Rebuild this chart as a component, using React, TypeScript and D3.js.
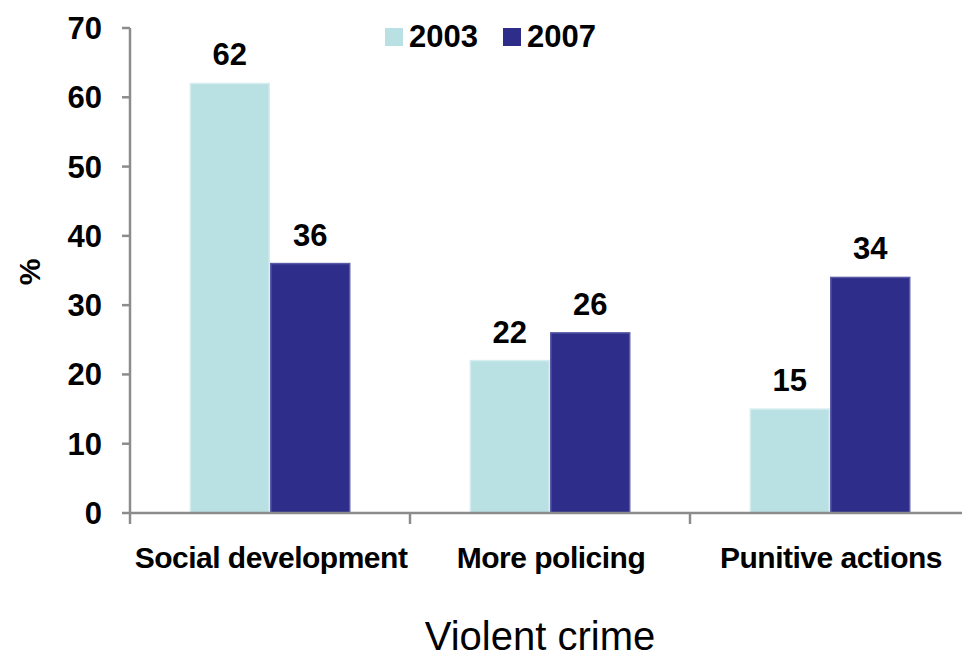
import React, { useEffect, useRef } from 'react'
import * as d3 from 'd3'

const categories = ['Social development', 'More policing', 'Punitive actions']
const seriesNames = ['2003', '2007']
const values2003 = [62, 22, 15]
const values2007 = [36, 26, 34]
const yTicks = [0, 10, 20, 30, 40, 50, 60, 70]
const colors = ['#b9e0e3', '#2e2e8a']
const strokes = ['#d6eef0', '#5a5aa6']

export default function App() {
    const svgRef = useRef<SVGSVGElement>(null)

    useEffect(() => {
        const width = 962
        const height = 658
        const left = 130
        const right = 970
        const top = 28
        const bottom = 513
        const font = 'Arial, "Liberation Sans", sans-serif'

        const svg = d3.select(svgRef.current)
        svg.selectAll('*').remove()
        svg.attr('width', width).attr('height', height)

        const x0 = d3.scaleBand().domain(categories).range([left, right])
        const x1 = d3
            .scaleBand()
            .domain(seriesNames)
            .range([0, x0.bandwidth()])
            .paddingInner(0)
            .paddingOuter(0.74)
        const y = d3.scaleLinear().domain([0, 70]).range([bottom, top])

        const rows = categories.map((c, i) => ({
            category: c,
            values: [values2003[i], values2007[i]],
        }))

        // bars
        const groups = svg
            .selectAll('g.cat')
            .data(rows)
            .enter()
            .append('g')
            .attr('class', 'cat')
            .attr('transform', (d) => `translate(${x0(d.category)},0)`)

        groups
            .selectAll('rect')
            .data((d) => d.values.map((v, j) => ({ v, j })))
            .enter()
            .append('rect')
            .attr('x', (d) => x1(seriesNames[d.j])! + 0.75)
            .attr('y', (d) => y(d.v))
            .attr('width', x1.bandwidth() - 1.5)
            .attr('height', (d) => bottom - y(d.v))
            .attr('fill', (d) => colors[d.j])
            .attr('stroke', (d) => strokes[d.j])
            .attr('stroke-width', 1.5)

        groups
            .selectAll('text.val')
            .data((d) => d.values.map((v, j) => ({ v, j })))
            .enter()
            .append('text')
            .attr('class', 'val')
            .attr('x', (d) => x1(seriesNames[d.j])! + x1.bandwidth() / 2)
            .attr('y', (d) => y(d.v) - 18)
            .attr('text-anchor', 'middle')
            .style('font-family', font)
            .style('font-size', '31px')
            .style('font-weight', 'bold')
            .text((d) => d.v)

        // y axis
        const axisColor = '#8c8c8c'
        svg.append('line')
            .attr('x1', left).attr('x2', left)
            .attr('y1', top).attr('y2', bottom)
            .attr('stroke', axisColor).attr('stroke-width', 2.5)
        svg.selectAll('line.ytick')
            .data(yTicks)
            .enter()
            .append('line')
            .attr('class', 'ytick')
            .attr('x1', left - 8).attr('x2', left)
            .attr('y1', (d) => y(d)).attr('y2', (d) => y(d))
            .attr('stroke', axisColor).attr('stroke-width', 2.5)
        svg.selectAll('text.ylab')
            .data(yTicks)
            .enter()
            .append('text')
            .attr('class', 'ylab')
            .attr('x', 102)
            .attr('y', (d) => y(d) + 11)
            .attr('text-anchor', 'end')
            .style('font-family', font)
            .style('font-size', '31px')
            .style('font-weight', 'bold')
            .text((d) => d)

        // x axis
        svg.append('line')
            .attr('x1', left).attr('x2', width)
            .attr('y1', bottom).attr('y2', bottom)
            .attr('stroke', axisColor).attr('stroke-width', 2.5)
        const xTickPos = categories.map((c) => x0(c)!).concat([right])
        svg.selectAll('line.xtick')
            .data(xTickPos)
            .enter()
            .append('line')
            .attr('class', 'xtick')
            .attr('x1', (d) => d).attr('x2', (d) => d)
            .attr('y1', bottom).attr('y2', bottom + 11)
            .attr('stroke', axisColor).attr('stroke-width', 2.5)
        svg.selectAll('text.xlab')
            .data(categories)
            .enter()
            .append('text')
            .attr('class', 'xlab')
            .attr('x', (d) => x0(d)! + x0.bandwidth() / 2 + 1)
            .attr('y', 568)
            .attr('text-anchor', 'middle')
            .style('font-family', font)
            .style('font-size', '30px')
            .style('font-weight', 'bold')
            .style('letter-spacing', '-0.5px')
            .text((d) => d)

        // axis titles
        svg.append('text')
            .attr('transform', 'translate(40,272) rotate(-90)')
            .attr('text-anchor', 'middle')
            .style('font-family', font)
            .style('font-size', '30px')
            .style('font-weight', 'bold')
            .text('%')

        svg.append('text')
            .attr('x', 540)
            .attr('y', 650)
            .attr('text-anchor', 'middle')
            .style('font-family', font)
            .style('font-size', '40px')
            .text('Violent crime')

        // legend
        const legendX = [385, 503]
        seriesNames.forEach((s, i) => {
            svg.append('rect')
                .attr('x', legendX[i]).attr('y', 28)
                .attr('width', 18).attr('height', 18)
                .attr('fill', colors[i])
            svg.append('text')
                .attr('x', legendX[i] + 24)
                .attr('y', 47)
                .style('font-family', font)
                .style('font-size', '31px')
                .style('font-weight', 'bold')
                .text(s)
        })
    }, [])

    return (
        <div style={{ position: 'absolute', left: 0, top: 0 }}>
            <svg ref={svgRef} style={{ display: 'block' }} />
        </div>
    )
}
